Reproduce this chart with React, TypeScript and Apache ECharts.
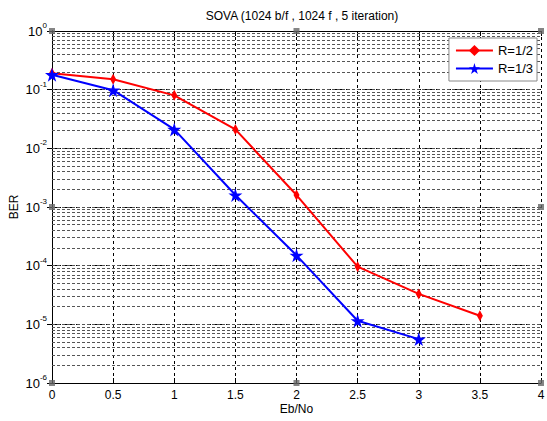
import React, { useEffect, useRef } from "react";
import * as echarts from "echarts";

const ebNo = [0, 0.5, 1, 1.5, 2, 2.5, 3, 3.5];
const berR12 = [0.19, 0.15, 0.08, 0.021, 0.0016, 0.000096, 0.000033, 0.000014];
const berR13 = [0.18, 0.098, 0.021, 0.0016, 0.00015, 0.0000115, 0.0000056];
const seriesNames = ["R=1/2", "R=1/3"];
const decades = [-6, -5, -4, -3, -2, -1, 0];
const handles = [
  [0, 1], [2, 1], [4, 1],
  [0, 1e-3], [4, 1e-3],
  [0, 1e-6], [2, 1e-6], [4, 1e-6],
];

const FONT = "Liberation Sans";
const STAR = "path://M50,0 L61,35 L98,35 L68,57 L79,91 L50,70 L21,91 L32,57 L2,35 L39,35 Z";

export default function App() {
  const ref = useRef<HTMLDivElement>(null);
  useEffect(() => {
    if (!ref.current) return;
    const chart = echarts.init(ref.current, undefined, { renderer: "svg" });

    const gridLines: any[] = [];
    for (let i = 0; i < decades.length - 1; i++) {
      const base = Math.pow(10, decades[i]);
      for (let m = 1; m <= 9; m++) {
        if (i === 0 && m === 1) continue;
        gridLines.push({ yAxis: Number((m * base).toPrecision(3)) });
      }
    }

    const axisCommon = {
      axisLine: { show: true, lineStyle: { color: "#000", width: 1 } },
      axisTick: { show: true, inside: true, length: 5, lineStyle: { color: "#000" } },
    };

    chart.setOption({
      animation: false,
      backgroundColor: "#fff",
      title: {
        text: "SOVA (1024 b/f , 1024 f , 5 iteration)",
        left: 297,
        textAlign: "center",
        top: 5,
        textStyle: { fontFamily: FONT, fontSize: 12, fontWeight: "normal", color: "#000" },
      },
      grid: { left: 52, right: 6, top: 31, bottom: 38, outerBoundsMode: "none" },
      legend: {
        right: 10,
        top: 38,
        orient: "vertical",
        data: seriesNames,
        backgroundColor: "#fff",
        borderColor: "#888",
        borderWidth: 1,
        borderRadius: 0,
        padding: [6, 4, 6, 6],
        itemGap: 5,
        itemWidth: 37,
        itemHeight: 14,
        textStyle: { fontFamily: FONT, fontSize: 13, color: "#000" },
      },
      xAxis: [
        {
          type: "value",
          min: 0,
          max: 4,
          interval: 0.5,
          name: "Eb/No",
          nameLocation: "middle",
          nameGap: 20,
          nameMoveOverlap: false,
          nameTextStyle: { fontFamily: FONT, fontSize: 12, color: "#000" },
          ...axisCommon,
          axisLabel: { fontFamily: FONT, fontSize: 12, color: "#000", margin: 6 },
          splitLine: { show: true, lineStyle: { color: "#000", type: [3, 3], width: 1 } },
        },
        {
          type: "value",
          position: "top",
          min: 0,
          max: 4,
          interval: 0.5,
          ...axisCommon,
          axisLabel: { show: false },
          splitLine: { show: false },
        },
      ],
      yAxis: [
        {
          type: "log",
          logBase: 10,
          min: 1e-6,
          max: 1,
          splitNumber: 6,
          name: "BER",
          nameLocation: "middle",
          nameGap: 32,
          nameMoveOverlap: false,
          nameTextStyle: { fontFamily: FONT, fontSize: 12, color: "#000" },
          ...axisCommon,
          axisLabel: {
            fontFamily: FONT,
            color: "#000",
            margin: 5,
            formatter: (v: number) => `{b|10}{s|${Math.round(Math.log10(v))}}`,
            rich: {
              b: { fontFamily: FONT, fontSize: 13, color: "#000" },
              s: { fontFamily: FONT, fontSize: 8, color: "#000", padding: [0, 0, 11, 0] },
            },
          },
          splitLine: { show: true, lineStyle: { color: "#000", type: [3, 3], width: 1 } },
        },
        {
          type: "log",
          logBase: 10,
          position: "right",
          min: 1e-6,
          max: 1,
          splitNumber: 6,
          ...axisCommon,
          axisLabel: { show: false },
          splitLine: { show: false },
        },
      ],
      series: [
        {
          name: seriesNames[0],
          type: "line",
          data: ebNo.slice(0, berR12.length).map((x, i) => [x, berR12[i]]),
          color: "#ff0000",
          lineStyle: { color: "#ff0000", width: 2 },
          itemStyle: { color: "#ff0000" },
          symbol: "diamond",
          symbolSize: [6, 11],
          z: 3,
          markLine: {
            silent: true,
            symbol: "none",
            precision: 12,
            label: { show: false },
            lineStyle: { color: "#555", type: [3, 2], width: 1 },
            emphasis: { disabled: true },
            data: gridLines,
            z: 1,
          },
        },
        {
          name: seriesNames[1],
          type: "line",
          data: ebNo.slice(0, berR13.length).map((x, i) => [x, berR13[i]]),
          color: "#0000ff",
          lineStyle: { color: "#0000ff", width: 2 },
          itemStyle: { color: "#0000ff" },
          symbol: STAR,
          symbolSize: 14,
          z: 4,
        },
        {
          name: "handles",
          type: "scatter",
          data: handles,
          symbol: "rect",
          symbolSize: 6,
          itemStyle: { color: "#666" },
          clip: false,
          silent: true,
          z: 5,
        },
      ],
    });
    return () => chart.dispose();
  }, []);
  return (
    <div
      ref={ref}
      style={{ position: "fixed", left: 0, top: 0, width: 547, height: 421 }}
    />
  );
}
